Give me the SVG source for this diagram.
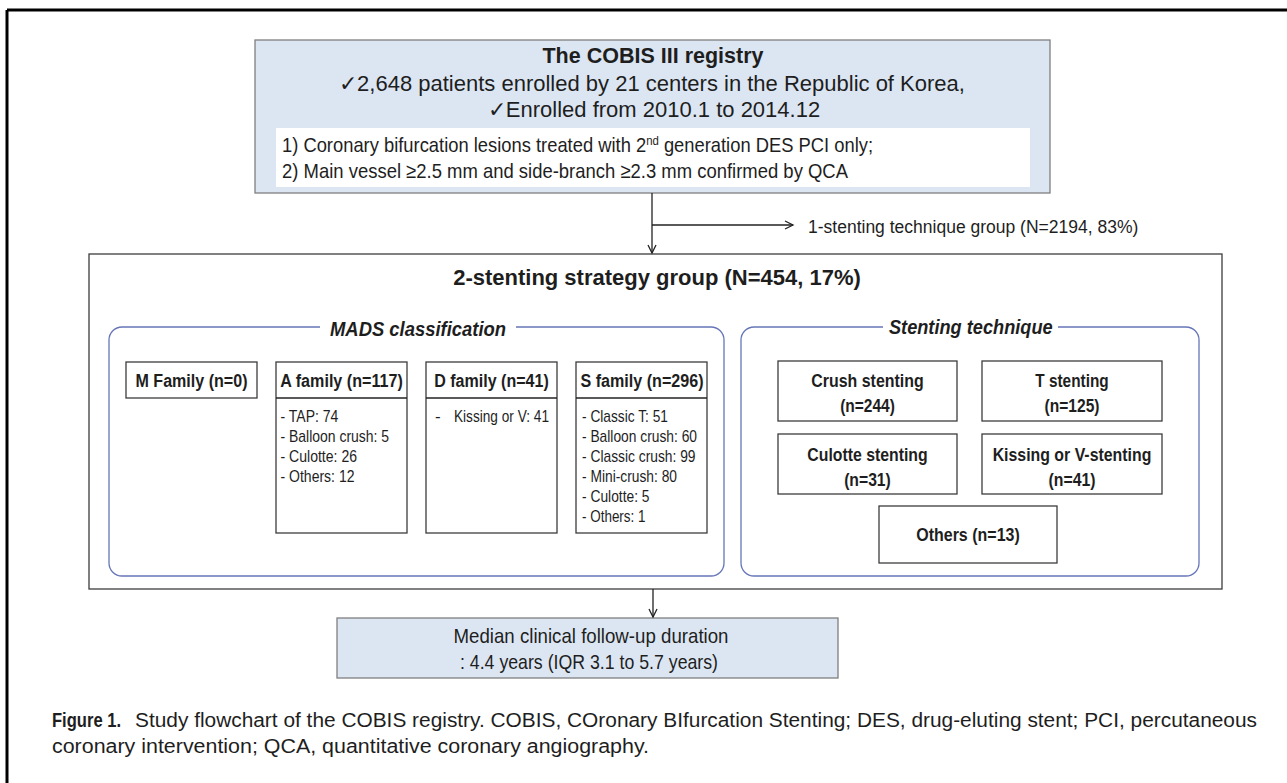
<svg xmlns="http://www.w3.org/2000/svg" width="1287" height="783" viewBox="0 0 1287 783">
<defs>
<marker id="arr" markerWidth="12" markerHeight="12" refX="9" refY="5" orient="auto" markerUnits="userSpaceOnUse">
<path d="M1,1 L9,5 L1,9" fill="none" stroke="#222" stroke-width="1.3"/>
</marker>
<style>
text{fill:#1e1e1e;font-family:"Liberation Sans",Arial,sans-serif}
.n{font-family:"Liberation Sans Narrow","Liberation Sans",Arial,sans-serif}
.b{font-weight:bold}
.i{font-style:italic}
.m{text-anchor:middle}
.blue{fill:#dce6f2;stroke:#7f7f7f;stroke-width:1.3}
.box{fill:#fff;stroke:#3c3c3c;stroke-width:1.3}
.grp{fill:none;stroke:#6676b8;stroke-width:1.3}
.ln{fill:none;stroke:#222;stroke-width:1.3}
.hd{font-size:18px}
.li{font-size:17px}
.st{font-size:19px}
</style>
</defs>

<g id="frame">
<line x1="7" y1="10" x2="1287" y2="10" stroke="#000" stroke-width="3"/>
<line x1="7" y1="10" x2="7" y2="783" stroke="#000" stroke-width="3"/>
</g>

<g id="registry">
<rect class="blue" x="255" y="40" width="795" height="153"/>
<rect x="276" y="128" width="754" height="59" fill="#fff"/>
<text class="b m" x="653" y="63" font-size="21.5">The COBIS III registry</text>
<text class="m" x="652" y="91" font-size="22">✓2,648 patients enrolled by 21 centers in the Republic of Korea,</text>
<text class="m" x="654" y="117" font-size="22">✓Enrolled from 2010.1 to 2014.12</text>
<text class="n" x="282" y="152" font-size="21" textLength="591" lengthAdjust="spacingAndGlyphs">1) Coronary bifurcation lesions treated with 2<tspan dy="-7" font-size="13">nd</tspan><tspan dy="7"> generation DES PCI only;</tspan></text>
<text class="n" x="282" y="178" font-size="21" textLength="566" lengthAdjust="spacingAndGlyphs">2) Main vessel ≥2.5 mm and side-branch ≥2.3 mm confirmed by QCA</text>
</g>

<g id="one-stent">
<text x="808" y="233" font-size="17.5">1-stenting technique group (N=2194, 83%)</text>
</g>

<g id="two-stent">
<rect class="box" x="89" y="254" width="1133" height="335"/>
<text class="b m" x="657" y="285" font-size="22">2-stenting strategy group (N=454, 17%)</text>
</g>

<g id="mads">
<path class="grp" d="M320,327 H122 A13,13 0 0 0 109,340 V563 A13,13 0 0 0 122,576 H711 A13,13 0 0 0 724,563 V340 A13,13 0 0 0 711,327 H516"/>
<text class="n b i m" x="418" y="336" font-size="20" textLength="176" lengthAdjust="spacingAndGlyphs">MADS classification</text>
</g>

<g id="m-family">
<rect class="box" x="126" y="362" width="131" height="36"/>
<text class="n b m hd" x="191.5" y="387" textLength="112" lengthAdjust="spacingAndGlyphs">M Family (n=0)</text>
</g>

<g id="a-family">
<rect class="box" x="276" y="362" width="131" height="171"/>
<line class="ln" x1="276" y1="398" x2="407" y2="398" stroke="#3c3c3c"/>
<text class="n b m hd" x="341.5" y="387" textLength="122.5" lengthAdjust="spacingAndGlyphs">A family (n=117)</text>
<text class="n li" x="280.5" y="421.5" textLength="57.8" lengthAdjust="spacingAndGlyphs">- TAP: 74</text>
<text class="n li" x="280.5" y="441.5" textLength="108.6" lengthAdjust="spacingAndGlyphs">- Balloon crush: 5</text>
<text class="n li" x="280.5" y="461.5" textLength="76.5" lengthAdjust="spacingAndGlyphs">- Culotte: 26</text>
<text class="n li" x="280.5" y="481.5" textLength="74" lengthAdjust="spacingAndGlyphs">- Others: 12</text>
</g>

<g id="d-family">
<rect class="box" x="426" y="362" width="131" height="171"/>
<line class="ln" x1="426" y1="398" x2="557" y2="398" stroke="#3c3c3c"/>
<text class="n b m hd" x="491.5" y="387" textLength="114.5" lengthAdjust="spacingAndGlyphs">D family (n=41)</text>
<text class="n li" x="435" y="421.5">-</text>
<text class="n li" x="454" y="421.5" textLength="95" lengthAdjust="spacingAndGlyphs">Kissing or V: 41</text>
</g>

<g id="s-family">
<rect class="box" x="576" y="362" width="131" height="171"/>
<line class="ln" x1="576" y1="398" x2="707" y2="398" stroke="#3c3c3c"/>
<text class="n b m hd" x="642" y="387" textLength="123" lengthAdjust="spacingAndGlyphs">S family (n=296)</text>
<text class="n li" x="582" y="421.5" textLength="86" lengthAdjust="spacingAndGlyphs">- Classic T: 51</text>
<text class="n li" x="582" y="441.5" textLength="115" lengthAdjust="spacingAndGlyphs">- Balloon crush: 60</text>
<text class="n li" x="582" y="461.5" textLength="113.5" lengthAdjust="spacingAndGlyphs">- Classic crush: 99</text>
<text class="n li" x="582" y="481.5" textLength="95" lengthAdjust="spacingAndGlyphs">- Mini-crush: 80</text>
<text class="n li" x="582" y="501.5" textLength="67.5" lengthAdjust="spacingAndGlyphs">- Culotte: 5</text>
<text class="n li" x="582" y="521.5" textLength="63.5" lengthAdjust="spacingAndGlyphs">- Others: 1</text>
</g>

<g id="technique">
<path class="grp" d="M883,327 H754 A13,13 0 0 0 741,340 V563 A13,13 0 0 0 754,576 H1186 A13,13 0 0 0 1199,563 V340 A13,13 0 0 0 1186,327 H1058"/>
<text class="n b i m" x="970.8" y="334" font-size="20" textLength="163.7" lengthAdjust="spacingAndGlyphs">Stenting technique</text>
</g>

<g id="crush">
<rect class="box" x="778" y="361" width="179" height="60"/>
<text class="n b m st" x="867.5" y="387" textLength="112.3" lengthAdjust="spacingAndGlyphs">Crush stenting</text>
<text class="n b m st" x="867.5" y="412" textLength="54.7" lengthAdjust="spacingAndGlyphs">(n=244)</text>
</g>

<g id="t-stent">
<rect class="box" x="982" y="361" width="180" height="60"/>
<text class="n b m st" x="1072" y="387" textLength="73.3" lengthAdjust="spacingAndGlyphs">T stenting</text>
<text class="n b m st" x="1072" y="412" textLength="55" lengthAdjust="spacingAndGlyphs">(n=125)</text>
</g>

<g id="culotte">
<rect class="box" x="778" y="434" width="179" height="60"/>
<text class="n b m st" x="867.5" y="460.5" textLength="120.3" lengthAdjust="spacingAndGlyphs">Culotte stenting</text>
<text class="n b m st" x="867.5" y="485.5" textLength="46.7" lengthAdjust="spacingAndGlyphs">(n=31)</text>
</g>

<g id="kissing">
<rect class="box" x="982" y="434" width="180" height="60"/>
<text class="n b m st" x="1072" y="460.5" textLength="158.7" lengthAdjust="spacingAndGlyphs">Kissing or V-stenting</text>
<text class="n b m st" x="1072" y="485.5" textLength="47" lengthAdjust="spacingAndGlyphs">(n=41)</text>
</g>

<g id="others">
<rect class="box" x="879" y="506" width="178" height="57"/>
<text class="n b m st" x="968" y="541" textLength="103.6" lengthAdjust="spacingAndGlyphs">Others (n=13)</text>
</g>

<g id="followup">
<rect class="blue" x="337" y="618" width="501" height="60"/>
<text class="n m" x="591" y="643" font-size="21" textLength="275" lengthAdjust="spacingAndGlyphs">Median clinical follow-up duration</text>
<text class="n m" x="589" y="669" font-size="21" textLength="258" lengthAdjust="spacingAndGlyphs">: 4.4 years (IQR 3.1 to 5.7 years)</text>
</g>

<g id="connectors">
<line class="ln" x1="652" y1="193" x2="652" y2="253" marker-end="url(#arr)"/>
<line class="ln" x1="652" y1="225" x2="793" y2="225" marker-end="url(#arr)"/>
<line class="ln" x1="653" y1="589" x2="653" y2="617" marker-end="url(#arr)"/>
</g>

<g id="caption">
<text class="n b" x="52" y="727" font-size="21" textLength="69" lengthAdjust="spacingAndGlyphs">Figure 1.</text>
<text x="135" y="727" font-size="20" textLength="1122" lengthAdjust="spacingAndGlyphs">Study flowchart of the COBIS registry. COBIS, COronary BIfurcation Stenting; DES, drug-eluting stent; PCI, percutaneous</text>
<text x="52" y="753" font-size="20" textLength="597" lengthAdjust="spacingAndGlyphs">coronary intervention; QCA, quantitative coronary angiography.</text>
</g>
</svg>
